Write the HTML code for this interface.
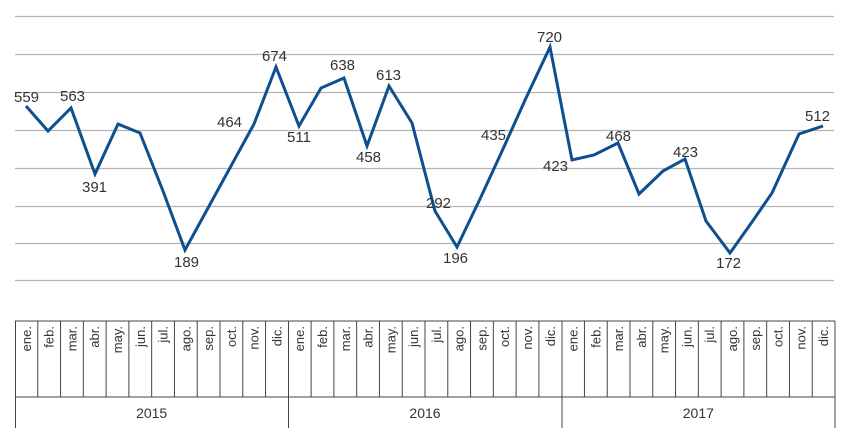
<!DOCTYPE html>
<html><head><meta charset="utf-8"><style>
html,body{margin:0;padding:0;background:#fff;}
svg{display:block;}
text{font-family:"Liberation Sans",sans-serif;fill:#333;}
</style></head><body>
<svg width="850" height="441" viewBox="0 0 850 441" xmlns="http://www.w3.org/2000/svg">
<g stroke="#b5b5b5" stroke-width="1.3">
<line x1="15" y1="16.5" x2="834" y2="16.5"/>
<line x1="15" y1="54.5" x2="834" y2="54.5"/>
<line x1="15" y1="92.5" x2="834" y2="92.5"/>
<line x1="15" y1="130.5" x2="834" y2="130.5"/>
<line x1="15" y1="168.5" x2="834" y2="168.5"/>
<line x1="15" y1="206.5" x2="834" y2="206.5"/>
<line x1="15" y1="243.5" x2="834" y2="243.5"/>
<line x1="15" y1="280.5" x2="834" y2="280.5"/>
</g>
<polyline fill="none" stroke="#0e4f8f" stroke-width="3" stroke-linejoin="miter" points="26,106 48,131 71,108 95,174 118,124 140,133 163,191 185,250 208,208 231,166 254,124 276,67 299,126 321,88 344,78 367,146 389,86 412,123 435,211 457,247 480,199 503,149 526,98 550,47 572,160 594,155 618,143 639,194 663,171 685,159 706,221 730,253 752,222 772,193 799,134 823,126"/>
<g font-size="15">
<text x="14" y="102">559</text>
<text x="60" y="101">563</text>
<text x="82" y="192">391</text>
<text x="174" y="267">189</text>
<text x="217" y="127">464</text>
<text x="262" y="61">674</text>
<text x="287" y="142">511</text>
<text x="330" y="70">638</text>
<text x="356" y="162">458</text>
<text x="376" y="80">613</text>
<text x="426" y="208">292</text>
<text x="443" y="263">196</text>
<text x="481" y="140">435</text>
<text x="537" y="42">720</text>
<text x="543" y="171">423</text>
<text x="606" y="141">468</text>
<text x="673" y="157">423</text>
<text x="716" y="268">172</text>
<text x="805" y="121">512</text>
</g>
<g stroke="#444" stroke-width="1" fill="none">
<line x1="15" y1="321" x2="835" y2="321"/>
<line x1="15" y1="397" x2="835" y2="397"/>
<line x1="15.5" y1="321" x2="15.5" y2="428"/>
<line x1="288.5" y1="321" x2="288.5" y2="428"/>
<line x1="562" y1="321" x2="562" y2="428"/>
<line x1="835" y1="321" x2="835" y2="428"/>
</g>
<g id="m" stroke="#444" stroke-width="1">
</g>
<script>
(function(){
var ns="http://www.w3.org/2000/svg",svg=document.querySelector('svg'),g=document.getElementById('m');
var months=["ene.","feb.","mar.","abr.","may.","jun.","jul.","ago.","sep.","oct.","nov.","dic."];
var step=(835-15)/36;
for(var i=0;i<36;i++){
var x=15+step*i;
if(i%12){var l=document.createElementNS(ns,'line');l.setAttribute('x1',x);l.setAttribute('x2',x);l.setAttribute('y1',321);l.setAttribute('y2',397);g.appendChild(l);}
var t=document.createElementNS(ns,'text');var cx=x+step/2+4.5;
t.setAttribute('transform','translate('+cx+',326) rotate(-90)');t.setAttribute('text-anchor','end');t.setAttribute('font-size','13');t.textContent=months[i%12];svg.appendChild(t);
}
var yrs=["2015","2016","2017"];
for(var j=0;j<3;j++){var t2=document.createElementNS(ns,'text');t2.setAttribute('x',15+step*(12*j+6));t2.setAttribute('y',418);t2.setAttribute('text-anchor','middle');t2.setAttribute('font-size','14');t2.textContent=yrs[j];svg.appendChild(t2);}
})();
</script>
</svg>
</body></html>
